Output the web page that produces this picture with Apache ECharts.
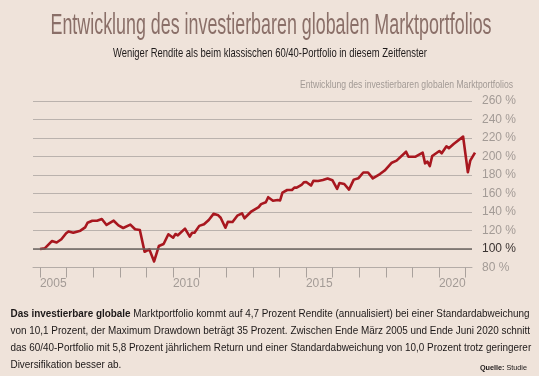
<!DOCTYPE html>
<html>
<head>
<meta charset="utf-8">
<script src="https://cdn.jsdelivr.net/npm/echarts@6/dist/echarts.min.js"></script>
<style>
	html, body { margin: 0; padding: 0; background: #efe3da; }
	#main { width: 539px; height: 376px; }
</style>
</head>
<body>
<div id="main"></div>
<script>
// Indexwerte (Ende März 2005 = 100 %)
var months = ['2005-03', '2005-05', '2005-08', '2005-10', '2005-12', '2006-02', '2006-03', '2006-05', '2006-08', '2006-10',
	'2006-11', '2007-01', '2007-03', '2007-05', '2007-07', '2007-10', '2007-12', '2008-02', '2008-05', '2008-07',
	'2008-09', '2008-11', '2009-01', '2009-03', '2009-05', '2009-07', '2009-09', '2009-11', '2009-12', '2010-01',
	'2010-04', '2010-06', '2010-07', '2010-08', '2010-10', '2010-12', '2011-02', '2011-04', '2011-06', '2011-07',
	'2011-09', '2011-10', '2011-12', '2012-02', '2012-04', '2012-05', '2012-08', '2012-11', '2012-12', '2013-02',
	'2013-03', '2013-05', '2013-07', '2013-08', '2013-09', '2013-11', '2014-01', '2014-02', '2014-03', '2014-05',
	'2014-06', '2014-07', '2014-09', '2014-10', '2014-12', '2015-02', '2015-04', '2015-06', '2015-08', '2015-09',
	'2015-11', '2016-01', '2016-03', '2016-05', '2016-07', '2016-09', '2016-11', '2017-02', '2017-04', '2017-07',
	'2017-09', '2018-01', '2018-02', '2018-05', '2018-08', '2018-09', '2018-10', '2018-11', '2018-12', '2019-03',
	'2019-04', '2019-06', '2019-07', '2019-09', '2020-01', '2020-03', '2020-04', '2020-06'];
var values = [100, 100.7, 108.6, 107, 110.5, 117, 119, 117.6, 119.8, 123.4,
	128.4, 130.6, 130.6, 132.4, 126, 130.6, 125.6, 122.7, 126.3, 121.3,
	120.5, 97, 99.6, 86.5, 103.2, 105.4, 115.9, 112.2, 116.2, 114.8,
	122, 113.3, 117.6, 117.6, 125, 126.7, 131.4, 138, 136.4, 133.8,
	123, 129.3, 129.2, 136, 138.6, 133.2, 140.8, 145.3, 148.5, 150.5,
	156, 152.2, 153, 152.5, 161, 163.8, 163.8, 166.3, 166.3, 169.2,
	172.1, 172.4, 168.6, 173.7, 173.5, 174.6, 176.2, 174.4, 165, 171.3,
	170.3, 164.2, 175, 176.6, 182.7, 182.7, 176.4, 181, 184.8, 193.3,
	195.5, 205.2, 199.8, 199.8, 204.1, 192.6, 194.4, 189.7, 200.5, 205.9,
	203.5, 211, 209, 213.5, 221.5, 183, 195.5, 204.1];

var tickYears = [2005, 2006, 2007, 2008, 2009, 2010, 2011, 2012, 2013, 2014, 2015, 2016, 2017, 2018, 2019, 2020, 2021];
var labelYears = [2005, 2010, 2015, 2020];

var FONT = '"Liberation Sans", Arial, sans-serif';
var NARROW = '"Liberation Sans Narrow", "Liberation Sans", sans-serif';

// Monatsindex ab März 2005
function monthIndex(s) {
	var p = s.split('-');
	return (parseInt(p[0], 10) - 2005) * 12 + parseInt(p[1], 10) - 3;
}

var lineData = months.map(function(m, i) {
	return [monthIndex(m), values[i]];
});

// Textbreite messen, um die schmale Schrift nachzubilden
var ctx = document.createElement('canvas').getContext('2d');
function textW(str, size, weight) {
	ctx.font = (weight || 'normal') + ' ' + size + 'px "Liberation Sans"';
	return ctx.measureText(str).width;
}

var title = 'Entwicklung des investierbaren globalen Marktportfolios';
var subtitle = 'Weniger Rendite als beim klassischen 60/40-Portfolio in diesem Zeitfenster';
var body1b = 'Das investierbare globale';
var body1 = ' Marktportfolio kommt auf 4,7 Prozent Rendite (annualisiert) bei einer Standardabweichung';
var body2 = 'von 10,1 Prozent, der Maximum Drawdown beträgt 35 Prozent. Zwischen Ende März 2005 und Ende Juni 2020 schnitt';
var body3 = 'das 60/40-Portfolio mit 5,8 Prozent jährlichem Return und einer Standardabweichung von 10,0 Prozent trotz geringerer';
var body4 = 'Diversifikation besser ab.';

var bodySize = 10.5;
var bodyScale = 519 / (textW(body1b, bodySize, 'bold') + textW(body1, bodySize));

function scaledText(str, x, y, size, weight, color, align, width) {
	return {
		type: 'text',
		x: x,
		y: y,
		scaleX: width / textW(str, size, weight),
		style: {
			text: str,
			fontFamily: FONT,
			fontSize: size,
			fontWeight: weight || 'normal',
			fill: color,
			align: align,
			verticalAlign: 'middle'
		}
	};
}

function bodyLine(str, y) {
	return {
		type: 'text',
		x: 10.5,
		y: y,
		scaleX: bodyScale,
		style: {
			text: str,
			fontFamily: FONT,
			fontSize: bodySize,
			fill: '#1c1818',
			align: 'left',
			verticalAlign: 'middle'
		}
	};
}

var chart = echarts.init(document.getElementById('main'));

var option = {
	backgroundColor: '#efe3da',
	animation: false,
	grid: [{
		left: 33,
		right: 67,
		top: 101,
		bottom: 108.5
	}, {
		left: 40,
		right: 64,
		top: 101,
		bottom: 108.5
	}],
	xAxis: [{
		type: 'value',
		gridIndex: 0,
		min: 2004.737,
		max: 2021.241,
		axisLine: {
			show: true,
			lineStyle: { color: '#b4aca7', width: 1 }
		},
		axisTick: {
			show: true,
			customValues: tickYears,
			length: 10,
			lineStyle: { color: '#a9a19c', width: 1 }
		},
		axisLabel: {
			customValues: labelYears.map(function(y) { return y + 0.5; }),
			formatter: function(v) { return String(Math.floor(v)); },
			color: '#a39b96',
			fontFamily: NARROW,
			fontSize: 12,
			margin: 10
		},
		splitLine: { show: false }
	}, {
		type: 'value',
		gridIndex: 1,
		min: 0,
		max: 183,
		show: false
	}],
	yAxis: [{
		type: 'value',
		gridIndex: 0,
		position: 'right',
		min: 80,
		max: 260,
		interval: 20,
		axisLine: { show: false },
		axisTick: { show: false },
		axisLabel: {
			formatter: '{value} %',
			margin: 10,
			fontFamily: NARROW,
			fontSize: 12,
			color: function(v) {
				return Number(v) === 100 ? '#3a3331' : '#a39b96';
			}
		},
		splitLine: {
			show: true,
			lineStyle: { color: '#bab2ad', width: 1 }
		}
	}, {
		type: 'value',
		gridIndex: 1,
		min: 80,
		max: 260,
		show: false
	}],
	series: [{
		// Linie bei 100 %
		type: 'line',
		xAxisIndex: 0,
		yAxisIndex: 0,
		data: [],
		markLine: {
			silent: true,
			symbol: 'none',
			label: { show: false },
			lineStyle: { color: '#6b6460', width: 1.6, type: 'solid' },
			data: [{ yAxis: 100 }]
		}
	}, {
		name: 'Marktportfolio',
		type: 'line',
		xAxisIndex: 1,
		yAxisIndex: 1,
		data: lineData,
		symbol: 'none',
		clip: false,
		lineStyle: {
			color: '#a8171f',
			width: 2.6,
			join: 'round'
		}
	}],
	graphic: [
		scaledText(title, 271, 26.3, 29, 'normal', '#8a6f68', 'center', 441),
		scaledText(subtitle, 270, 53.6, 13.5, 'normal', '#1e1a1a', 'center', 314),
		scaledText(title, 513, 84.3, 11.6, 'normal', '#a29a95', 'right', 213),
		{
			type: 'text',
			x: 10.5,
			y: 313.9,
			scaleX: bodyScale,
			style: {
				text: '{b|' + body1b + '}{r|' + body1 + '}',
				align: 'left',
				verticalAlign: 'middle',
				rich: {
					b: { fontFamily: FONT, fontSize: bodySize, fontWeight: 'bold', fill: '#1c1818' },
					r: { fontFamily: FONT, fontSize: bodySize, fill: '#1c1818' }
				}
			}
		},
		bodyLine(body2, 330.9),
		bodyLine(body3, 347.9),
		bodyLine(body4, 364.9),
		{
			type: 'text',
			x: 527,
			y: 368,
			scaleX: 47 / (textW('Quelle:', 7.5, 'bold') + textW(' Studie', 7.5)),
			style: {
				text: '{b|Quelle:}{r| Studie}',
				align: 'right',
				verticalAlign: 'middle',
				rich: {
					b: { fontFamily: FONT, fontSize: 7.5, fontWeight: 'bold', fill: '#1c1818' },
					r: { fontFamily: FONT, fontSize: 7.5, fill: '#1c1818' }
				}
			}
		}
	]
};

chart.setOption(option);
</script>
</body>
</html>
